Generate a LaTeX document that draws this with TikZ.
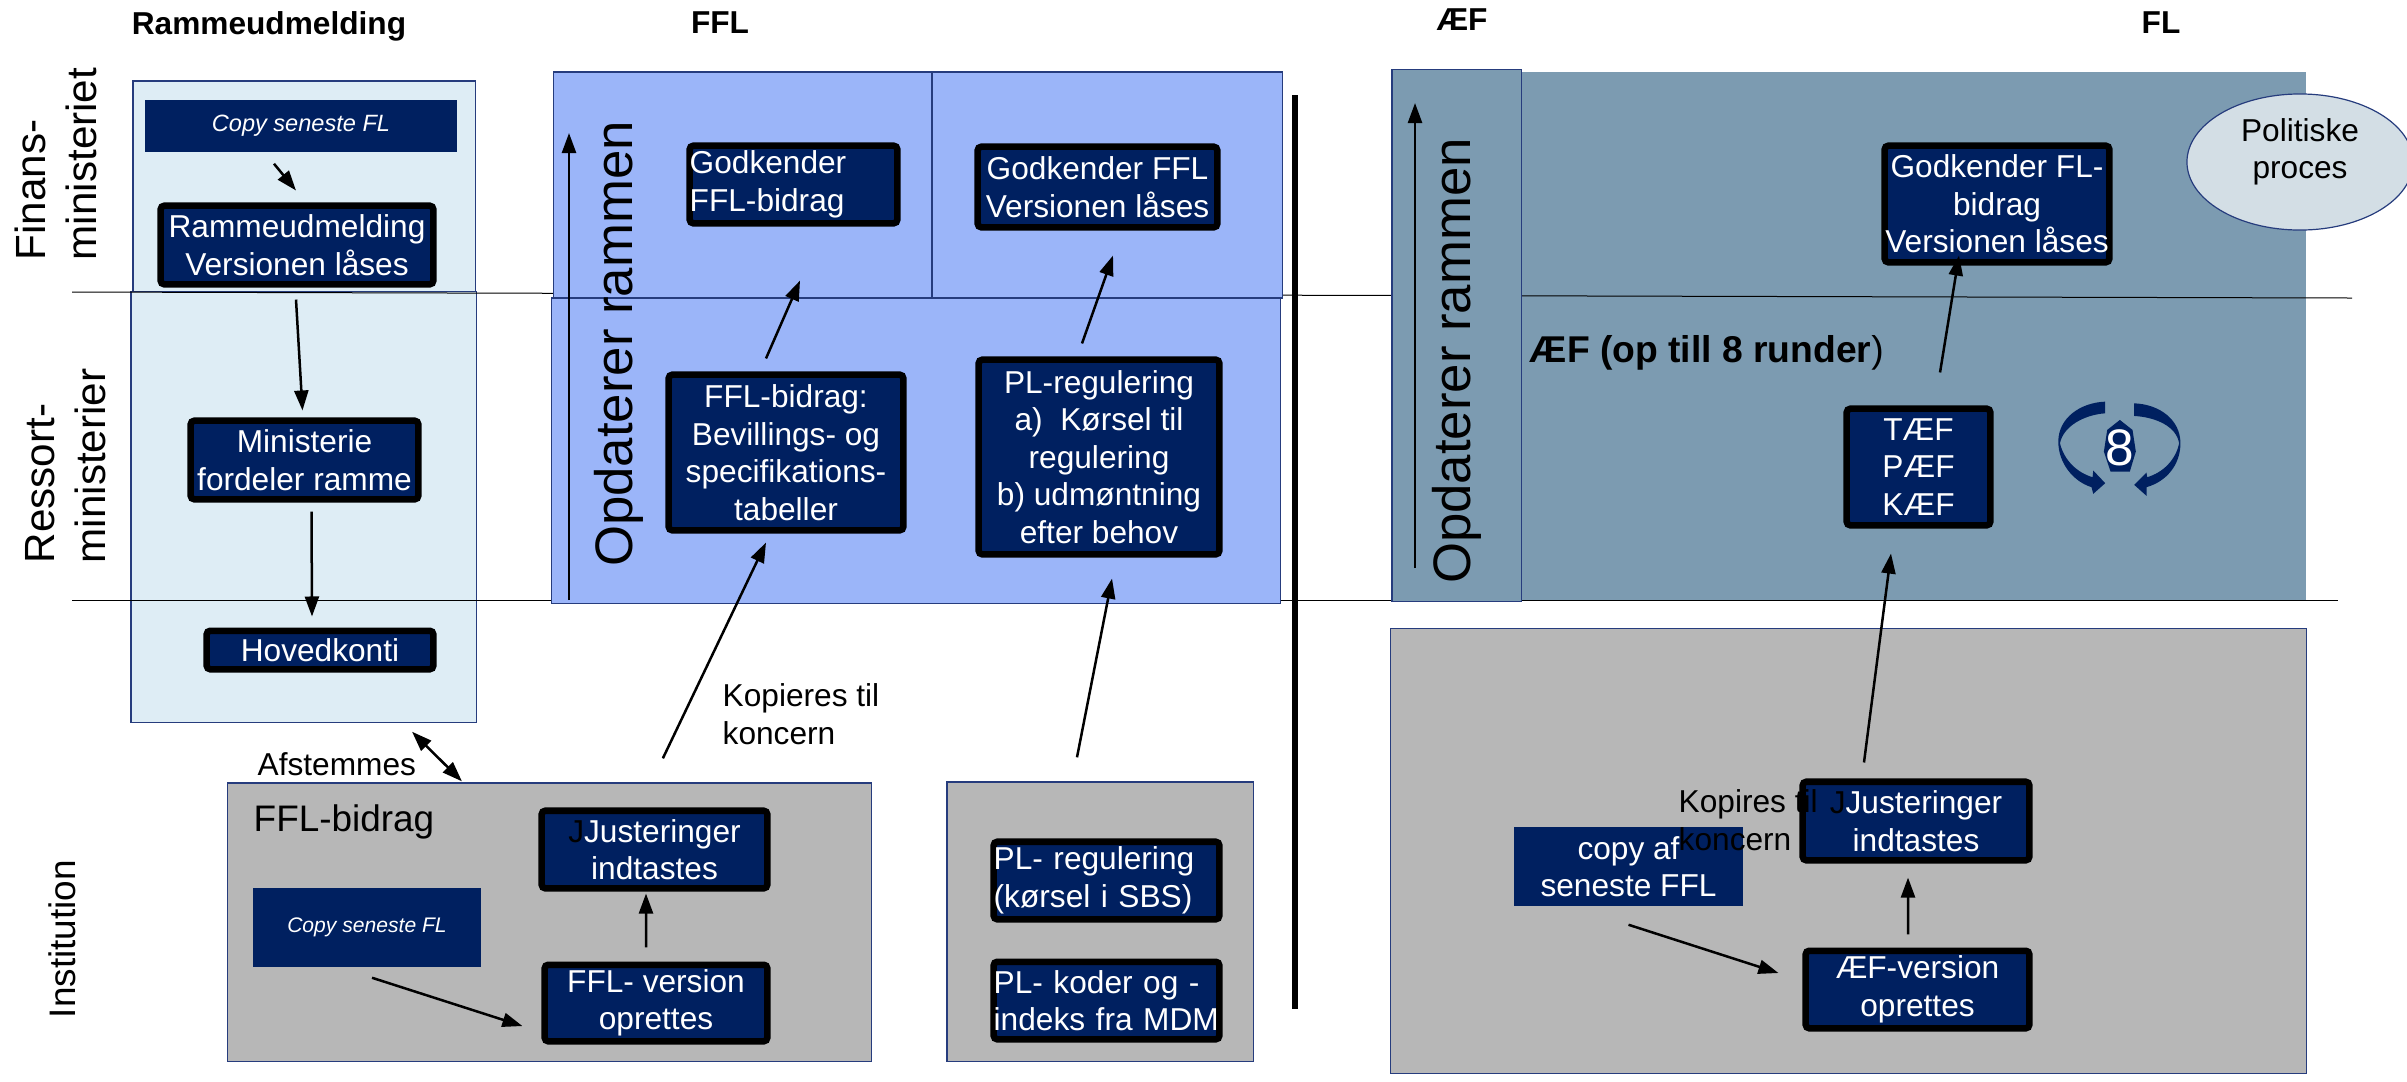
\documentclass[tikz,border=0pt]{standalone}
\usepackage{fontspec}
\setmainfont{Liberation Sans}
\usepackage{xcolor}
\usetikzlibrary{shapes.geometric, arrows.meta, positioning}
\definecolor{navyblue}{RGB}{0,32,96}
\definecolor{edgeblue}{RGB}{38,60,125}
\definecolor{paleblue}{RGB}{222,237,245}
\definecolor{fflblue}{RGB}{155,181,249}
\definecolor{steelblue}{RGB}{124,155,177}
\definecolor{panelgray}{RGB}{183,183,183}
\definecolor{bubblegray}{RGB}{211,222,229}

\begin{document}
\begin{tikzpicture}[x=0.01cm, y=-0.01cm,
    base/.style={font=\fontsize{9}{10.67}\selectfont},
    panel/.style={rectangle, draw=edgeblue, line width=0.012cm, inner sep=0pt},
    stepbox/.style={base, rectangle, rounded corners=1pt, draw=black, fill=navyblue, text=white,
                    line width=0.065cm, inner sep=0pt, align=center},
    leftbox/.style={stepbox, align=left, text width=2.255cm, minimum width=2.255cm},
    copybox/.style={rectangle, fill=navyblue, text=white, inner sep=0pt, align=center},
    head/.style={font=\fontsize{9}{10.67}\selectfont\bfseries},
    lane/.style={font=\fontsize{12}{14.5}\selectfont, rotate=90, align=left},
    update/.style={font=\fontsize{15}{18}\selectfont, rotate=90, anchor=base},
    note/.style={base, align=left, anchor=west, inner sep=0pt},
    arrow/.style={-{Stealth[length=0.2cm, width=0.14cm, inset=0pt]}, line width=0.025cm, black},
    twoway/.style={{Stealth[length=0.2cm, width=0.14cm, inset=0pt]}-{Stealth[length=0.2cm, width=0.14cm, inset=0pt]}, line width=0.025cm, black},
    laneline/.style={line width=0.01cm, black}]

    \useasboundingbox (0,0) rectangle (2407,1081);

    \node[panel, fill=paleblue, minimum width=3.425cm, minimum height=2.11cm] (rmtop) at (304.25,186.5) {};
    \node[panel, fill=paleblue, minimum width=3.45cm, minimum height=4.30cm] (rmmid) at (303.5,507) {};
    \node[rectangle, fill=steelblue, inner sep=0pt, minimum width=7.85cm, minimum height=5.28cm] (flbg) at (1913.5,336) {};

    \coordinate (laneAstart) at (72,292);
    \coordinate (laneAend) at (2352,298);
    \coordinate (laneBstart) at (72,600);
    \coordinate (laneBend) at (2338,600);
    \draw[laneline] (laneAstart) -- (laneAend);
    \draw[laneline] (laneBstart) -- (laneBend);

    \node[panel, fill=fflblue, minimum width=3.785cm, minimum height=2.26cm] (ffltl) at (742.75,185) {};
    \node[panel, fill=fflblue, minimum width=3.5cm, minimum height=2.26cm] (ffltr) at (1107,185) {};
    \node[panel, fill=fflblue, minimum width=7.28cm, minimum height=3.05cm] (fflb) at (916,450.5) {};
    \node[panel, fill=steelblue, minimum width=1.295cm, minimum height=5.31cm] (aefcol) at (1456.75,335.5) {};
    \node[panel, fill=panelgray, minimum width=6.436cm, minimum height=2.78cm] (instA) at (549.8,922) {};
    \node[panel, fill=panelgray, minimum width=3.06cm, minimum height=2.79cm] (instB) at (1100,921.5) {};
    \node[panel, fill=panelgray, minimum width=9.15cm, minimum height=4.44cm] (instC) at (1848.5,851) {};

    \node[head] (hramme) at (269,26) {Rammeudmelding};
    \node[head] (hffl) at (720,23) {FFL};
    \node[head] (haef) at (1462,20) {ÆF};
    \node[head] (hfl) at (2161,23) {FL};

    \node[lane] (lfin) at (56,164) {Finans-\\ministeriet};
    \node[lane] (lres) at (66,466) {Ressort-\\ministerier};
    \node[lane, font=\fontsize{10.5}{12}\selectfont] (linst) at (62,939) {Institution};

    \node[update] (updffl) at (632.6,344) {Opdaterer rammen};
    \node[update] (updaef) at (1470,361) {Opdaterer rammen};

    \coordinate (fflupstart) at (569,600);
    \coordinate (fflupend) at (569,133);
    \coordinate (aefupstart) at (1415,568);
    \coordinate (aefupend) at (1415,103);
    \draw[arrow] (fflupstart) -- (fflupend);
    \draw[arrow] (aefupstart) -- (aefupend);

    \node[copybox, minimum width=3.12cm, minimum height=0.52cm, font=\fontsize{6.7}{8}\selectfont\itshape] (copytop) at (301,126) {Copy seneste FL};
    \node[stepbox, minimum width=2.725cm, minimum height=0.785cm] (rammemsg) at (297,245) {Rammeudmelding\\Versionen låses};
    \node[stepbox, minimum width=2.275cm, minimum height=0.785cm] (minfordel) at (304.5,460) {Ministerie\\fordeler ramme};
    \node[stepbox, minimum width=2.265cm, minimum height=0.385cm] (hovedkonti) at (320,650) {Hovedkonti};

    \node[leftbox, text width=2.075cm, minimum width=2.075cm, minimum height=0.775cm] (godkbid) at (793.5,184.5) {Godkender\\FFL-bidrag};
    \node[stepbox, minimum width=2.395cm, minimum height=0.805cm] (godkffl) at (1097.5,187) {Godkender FFL\\Versionen låses};
    \node[stepbox, minimum width=2.345cm, minimum height=1.555cm] (ffltab) at (786,452.5) {FFL-bidrag:\\Bevillings- og\\specifikations-\\tabeller};
    \node[stepbox, minimum width=2.405cm, minimum height=1.945cm] (plreg) at (1099,457) {PL-regulering\\a)\ \ Kørsel til\\regulering\\b) udmøntning\\efter behov};

    \node[note, font=\fontsize{10.5}{12}\selectfont] (bidraglabel) at (253,822) {FFL-bidrag};
    \node[stepbox, minimum width=2.255cm, minimum height=0.775cm] (justA) at (654.5,849.5) {{\color{black}J}Justeringer\\indtastes};
    \node[stepbox, minimum width=2.225cm, minimum height=0.765cm] (fflver) at (656,1003) {FFL- version\\oprettes};
    \node[copybox, minimum width=2.28cm, minimum height=0.79cm, font=\fontsize{6}{7}\selectfont\itshape] (copyffl) at (367,927.5) {Copy seneste FL};
    \node[leftbox, minimum height=0.775cm] (plsbs) at (1106.5,880.5) {PL- regulering\\(kørsel i SBS)};
    \node[leftbox, minimum height=0.775cm] (plkoder) at (1106.5,1000.5) {PL- koder og -\\indeks fra MDM};

    \node[stepbox, minimum width=2.245cm, minimum height=1.165cm] (godkfl) at (1997,204) {Godkender FL-\\bidrag\\Versionen låses};
    \node[stepbox, minimum width=1.435cm, minimum height=1.165cm] (taef) at (1918.5,467) {TÆF\\PÆF\\KÆF};
    \node[stepbox, minimum width=2.265cm, minimum height=0.785cm] (justB) at (1916,821) {{\color{black}J}Justeringer\\indtastes};
    \node[stepbox, minimum width=2.235cm, minimum height=0.775cm] (aefver) at (1917.5,989.5) {ÆF-version\\oprettes};
    \node[copybox, base, minimum width=2.29cm, minimum height=0.79cm] (copyaef) at (1628.5,866.5) {copy af\\seneste FFL};

    \node[ellipse, draw=edgeblue, fill=bubblegray, line width=0.012cm, inner sep=0pt,
          minimum width=2.26cm, minimum height=1.36cm] (politisk) at (2300,162) {};
    \node[base, align=center] (politisktext) at (2300,152) {Politiske\\proces};
    \node[note, font=\fontsize{10.6}{12}\selectfont] (aefrunder) at (1529,353) {\textbf{ÆF (op till 8 runder}{)}};

    \begin{scope}[shift={(2020,380)}, x=0.00333cm, y=-0.00333cm]
        \fill[navyblue] (256,65) .. controls (180,68) and (115,115) .. (115,185) .. controls (115,250) and (160,305) .. (215,322)
            -- (220,342) -- (256,310) -- (220,272) -- (218,292) .. controls (170,278) and (132,240) .. (120,190)
            .. controls (130,140) and (190,105) .. (256,100) -- cycle;
        \fill[navyblue] (343,70) .. controls (420,73) and (482,120) .. (482,190) .. controls (482,255) and (440,305) .. (380,322)
            -- (380,348) -- (343,315) -- (380,278) -- (382,292) .. controls (430,278) and (468,240) .. (478,190)
            .. controls (470,140) and (410,112) .. (343,108) -- cycle;
        \fill[navyblue] (300,120) -- (338,150) -- (348,215) -- (330,275) -- (272,275) -- (252,215) -- (262,150) -- cycle;
    \end{scope}
    \node[text=white, font=\fontsize{14.6}{16}\selectfont, inner sep=0pt] (roundseight) at (2120,448) {8};

    \node[note] (kopA) at (722,714) {Kopieres til\\koncern};
    \node[note] (kopB) at (1678,820) {Kopires til\\koncern};
    \node[note] (afstem) at (257,764) {Afstemmes};

    \draw[line width=0.06cm, black] (1295,95) -- (1295,1009);

    \draw[arrow] ([xshift=-.27cm, yshift=-.11cm]copytop.south) -- ([xshift=-.01cm, yshift=.12cm]rammemsg.north);
    \draw[arrow] ([xshift=-.01cm, yshift=-.12cm]rammemsg.south) -- ([xshift=-.02cm, yshift=.07cm]minfordel.north);
    \draw[arrow] ([xshift=.07cm, yshift=-.09cm]minfordel.south) -- ([xshift=-.08cm, yshift=.11cm]hovedkonti.north);
    \draw[arrow] ([xshift=-.20cm, yshift=.13cm]ffltab.north) -- ([xshift=.065cm, yshift=-.54cm]godkbid.south);
    \draw[arrow] ([xshift=-.17cm, yshift=.13cm]plreg.north) -- ([xshift=.155cm, yshift=-.25cm]godkffl.south);
    \draw[arrow] ([xshift=1.13cm, yshift=.24cm]instA.north) -- ([xshift=-.20cm, yshift=-.09cm]ffltab.south);
    \draw[arrow] ([xshift=-.23cm, yshift=.24cm]instB.north) -- ([xshift=.13cm, yshift=-.21cm]plreg.south);
    \draw[arrow] ([xshift=-.10cm, yshift=.14cm]fflver.north) -- ([xshift=-.085cm, yshift=-.02cm]justA.south);
    \draw[arrow] ([xshift=.05cm, yshift=-.10cm]copyffl.south) -- ([xshift=-.19cm, yshift=-.23cm]fflver.west);
    \draw[twoway] ([xshift=1.085cm, yshift=-.09cm]rmmid.south) -- ([xshift=-.878cm, yshift=.01cm]instA.north);
    \draw[arrow] ([xshift=.215cm, yshift=.33cm]taef.north) -- ([xshift=-.38cm, yshift=.10cm]godkfl.south);
    \draw[arrow] ([xshift=-.52cm, yshift=.16cm]justB.north) -- ([xshift=-.275cm, yshift=-.25cm]taef.south);
    \draw[arrow] ([xshift=-.095cm, yshift=.13cm]aefver.north) -- ([xshift=-.08cm, yshift=-.14cm]justB.south);
    \draw[arrow] ([yshift=-.18cm]copyaef.south) -- ([xshift=-.24cm, yshift=.165cm]aefver.west);
\end{tikzpicture}
\end{document}
